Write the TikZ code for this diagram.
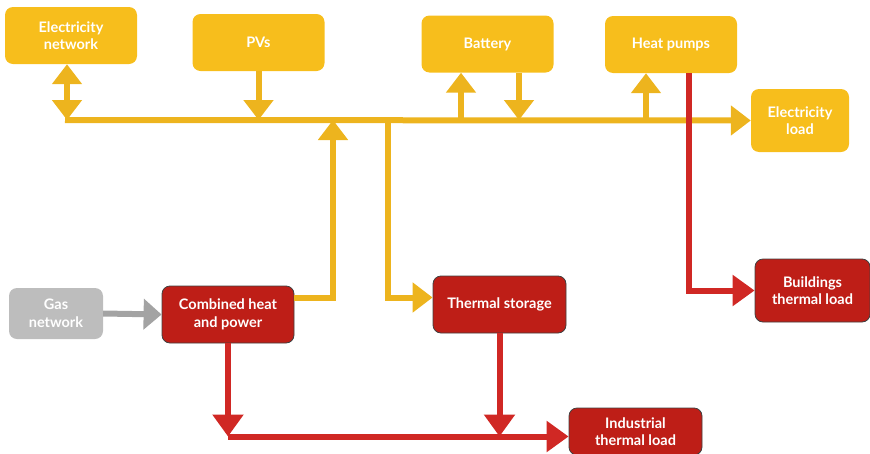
\documentclass[tikz,border=0pt]{standalone}
\usepackage{fontspec}
\setmainfont{Lato}
\usetikzlibrary{arrows.meta}
\definecolor{ybox}{HTML}{F7BE1C}
\definecolor{yline}{HTML}{EDB41E}
\definecolor{rbox}{HTML}{BE1E17}
\definecolor{rline}{HTML}{D02824}
\definecolor{gbox}{HTML}{BDBDBD}
\definecolor{gline}{HTML}{A3A3A3}
\begin{document}
\begin{tikzpicture}[x=1pt,y=-1pt,
  box/.style={rounded corners=8pt, text=white, align=center, inner sep=0pt,
    font=\bfseries\fontsize{14.5}{17.5}\selectfont},
  ynode/.style={box, fill=ybox, minimum width=132pt, minimum height=57pt},
  rnode/.style={box, fill=rbox, draw=black!75, line width=0.8pt, minimum width=132pt, minimum height=57pt},
  gnode/.style={box, fill=gbox, minimum width=94pt, minimum height=51pt},
  yln/.style={draw=yline, line width=6pt},
  yflow/.style={yln, -{Triangle[width=29pt,length=20pt]}},
  ydouble/.style={yln, {Triangle[width=29pt,length=20pt]}-{Triangle[width=29pt,length=20pt]}},
  rflow/.style={draw=rline, line width=6pt, -{Triangle[width=30pt,length=22pt]}},
  gflow/.style={draw=gline, line width=6pt, -{Triangle[width=30pt,length=18pt]}}
]
\useasboundingbox (0,0) rectangle (870,453);

% nodes
\node[ynode] (en) at (71,35.5) {Electricity\\network};
\node[ynode] (pv) at (258.5,42.5) {PVs};
\node[ynode] (bat) at (487.5,44) {Battery};
\node[ynode] (hp) at (671,44.5) {Heat pumps};
\node[ynode, minimum width=98pt, minimum height=63pt] (el) at (800,120.5) {Electricity\\load};
\node[gnode] (gas) at (56,313.5) {Gas\\network};
\node[rnode] (chp) at (228,314.5) {Combined heat\\and power};
\node[rnode, minimum width=133pt] (ts) at (499.5,304.5) {Thermal storage};
\node[rnode, minimum width=115pt, minimum height=63pt] (bl) at (812.5,290.5) {Buildings\\thermal load};
\node[rnode, minimum width=133pt, minimum height=47pt] (il) at (635.5,431.5) {Industrial\\thermal load};

% junction coordinates
\coordinate (busL) at (65,120);
\coordinate (enb) at ([xshift=-4pt]en.south);
\coordinate (chpo) at ([yshift=16.5pt]chp.east);
\coordinate (chpup) at (333,120);
\coordinate (tsj) at (388,120);
\coordinate (tsin) at ([yshift=7pt]ts.west);
\coordinate (batu) at ([xshift=-26.5pt]bat.south);
\coordinate (batd) at ([xshift=31.5pt]bat.south);
\coordinate (hpu) at ([xshift=-25pt]hp.south);
\coordinate (hpr) at ([xshift=18pt]hp.south);
\coordinate (ilin) at ([yshift=-5pt]il.west);
\coordinate (ij) at (chp.south |- ilin);

% electricity bus
\draw[yflow] (busL) -- (el.west);
\draw[ydouble] (enb) -- (enb |- busL);
\draw[yflow] (pv.south) -- (pv.south |- busL);
\draw[yflow] (chpo) -| (chpup);
\draw[yflow] (tsj) |- (tsin);
\draw[yflow] (batu |- busL) -- (batu);
\draw[yflow] (batd) -- (batd |- busL);
\draw[yflow] (hpu |- busL) -- (hpu);

% heat
\draw[rflow] (hpr) |- (bl.west);
\draw[rflow] (chp.south) -- (ij);
\draw[rflow] (ij) -- (ilin);
\draw[rflow] (ts.south) -- (ts.south |- ilin);

% gas
\draw[gflow] (gas.east) -- (chp.west);
\end{tikzpicture}
\end{document}
